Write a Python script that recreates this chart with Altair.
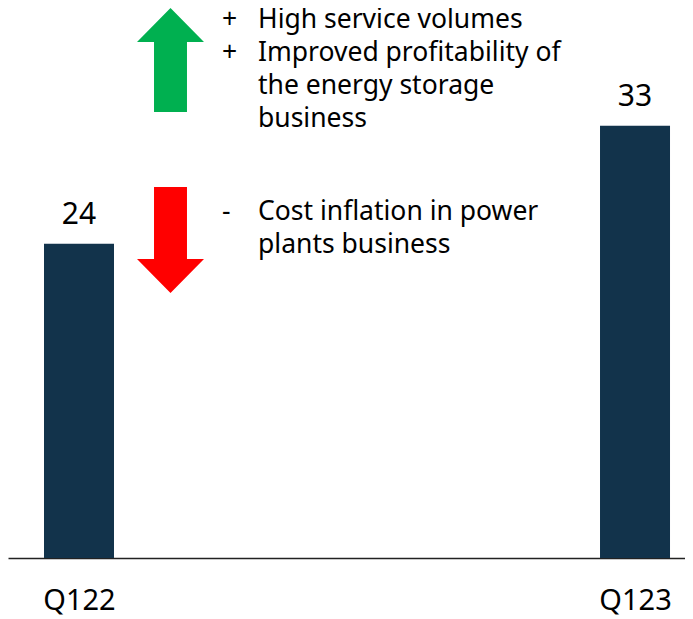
import altair as alt
import pandas as pd

# ---- data ----
categories = ["Q122", "Q123"]
values = [24, 33]
positions = [0, 1]

up_bullets = ["+", "+"]
up_lines = ["High service volumes", "Improved profitability of", "the energy storage", "business"]
down_bullets = ["-"]
down_lines = ["Cost inflation in power", "plants business"]

BAR = "#12334b"
GREEN = "#00b050"
RED = "#ff0000"
FONT = "Noto Sans"

df = pd.DataFrame({"cat": categories, "val": values, "pos": positions})
one = pd.DataFrame({"k": [0]})

W, H = 677, 550
xscale = alt.Scale(domain=[-0.1277, 1.0899], nice=False, zero=False, padding=0)
yscale = alt.Scale(domain=[0, 42.0], nice=False, padding=0)

label_expr = "datum.value == 0 ? '" + categories[0] + "' : '" + categories[1] + "'"

bars = alt.Chart(df).mark_bar(size=70, color=BAR).encode(
    x=alt.X("pos:Q", scale=xscale,
            axis=alt.Axis(values=positions, labelExpr=label_expr, title=None, grid=False,
                          ticks=False, tickSize=0, domainColor="#222222", domainWidth=1.3,
                          labelFontSize=29, labelFont=FONT, labelColor="#000000",
                          labelPadding=28, labelFlush=False)),
    y=alt.Y("val:Q", scale=yscale, axis=None),
)

labels = alt.Chart(df).mark_text(fontSize=30, font=FONT, color="#000000",
                                 baseline="alphabetic", dy=-20).encode(
    x=alt.X("pos:Q", scale=xscale),
    y=alt.Y("val:Q", scale=yscale),
    text=alt.Text("val:Q"),
)

up_path = ("M 0 -1 L 0.644 -0.346 L 0.317 -0.346 L 0.317 1 L -0.317 1 "
           "L -0.317 -0.346 L -0.644 -0.346 Z")
down_path = ("M 0 1 L 0.632 0.358 L 0.311 0.358 L 0.311 -1 L -0.311 -1 "
             "L -0.311 0.358 L -0.632 0.358 Z")

up_arrow = alt.Chart(one).mark_point(shape=up_path, filled=True, opacity=1,
                                     color=GREEN, size=104 * 104, strokeWidth=0).encode(
    x=alt.value(162.5), y=alt.value(52))
down_arrow = alt.Chart(one).mark_point(shape=down_path, filled=True, opacity=1,
                                       color=RED, size=106 * 106, strokeWidth=0).encode(
    x=alt.value(162.5), y=alt.value(232))

txt = dict(font=FONT, fontSize=26.5, color="#000000", align="left",
           baseline="alphabetic", lineHeight=33)

up_b = alt.Chart(one).mark_text(**txt).encode(
    x=alt.value(214), y=alt.value(20), text=alt.value(up_bullets))
up_t = alt.Chart(one).mark_text(**txt).encode(
    x=alt.value(250), y=alt.value(20), text=alt.value(up_lines))
down_b = alt.Chart(one).mark_text(**txt).encode(
    x=alt.value(214), y=alt.value(212), text=alt.value(down_bullets))
down_t = alt.Chart(one).mark_text(**txt).encode(
    x=alt.value(250), y=alt.value(212), text=alt.value(down_lines))

chart = alt.layer(bars, labels, up_arrow, down_arrow, up_b, up_t, down_b, down_t).properties(
    width=W, height=H,
    autosize=alt.AutoSizeParams(type="none"),
    padding={"left": 0, "top": 0, "right": 0, "bottom": 58},
).configure_view(strokeWidth=0, stroke="transparent", strokeOpacity=0)

chart.save("out.html", embed_options={"renderer": "svg", "actions": False})
